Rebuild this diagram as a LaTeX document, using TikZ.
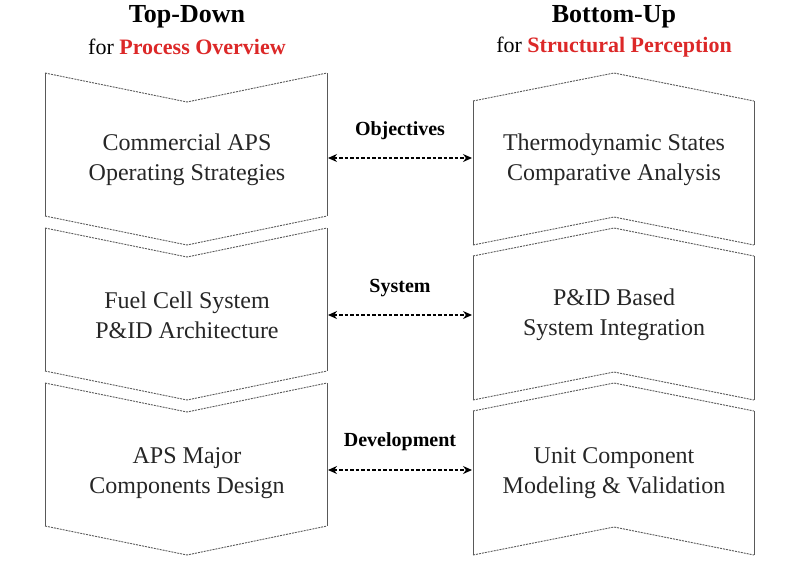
\documentclass[tikz,border=0pt]{standalone}
\usepackage{fontspec}
\setmainfont{Liberation Serif}
\usetikzlibrary{arrows.meta}
\definecolor{myred}{RGB}{220,40,40}
\begin{document}
\begin{tikzpicture}[x=1pt,y=-1pt,
  side/.style={draw=gray!70!black,line width=0.9pt},
  chev/.style={draw=gray!70!black,line width=0.9pt,dash pattern=on 2pt off 1pt},
  txt/.style={font=\fontsize{24}{30}\selectfont,align=center,text=black!85},
  lbl/.style={font=\fontsize{20}{22}\selectfont\bfseries},
  link/.style={line width=1.3pt,dash pattern=on 3.5pt off 2pt,{Stealth[length=9pt,width=8pt]}-{Stealth[length=9pt,width=8pt]}}]
\useasboundingbox (0,0) rectangle (800,581);
\node[font=\fontsize{26}{28}\selectfont\bfseries] (tdt) at (187,17) {Top-Down};
\node[font=\fontsize{22}{24}\selectfont] (tds) at (187,47) {for \textbf{\color{myred}Process Overview}};
\node[font=\fontsize{26}{28}\selectfont\bfseries] (but) at (614,17) {Bottom-Up};
\node[font=\fontsize{22}{24}\selectfont] (bus) at (614,47) {for \textbf{\color{myred}Structural Perception}};
\foreach \k in {0,1,2}{
  \pgfmathsetmacro{\t}{73+155*\k}
  \draw[side] (45,\t) -- (45,\t+143);
  \draw[side] (327,\t) -- (327,\t+143);
  \draw[chev] (45,\t) -- (187,\t+29) -- (327,\t);
  \draw[chev] (45,\t+143) -- (187,\t+172) -- (327,\t+143);
  \draw[side] (473,\t+28) -- (473,\t+172);
  \draw[side] (754,\t+28) -- (754,\t+172);
  \draw[chev] (473,\t+28) -- (614,\t) -- (754,\t+28);
  \draw[chev] (473,\t+172) -- (614,\t+144) -- (754,\t+172);
}
\node[txt] (l1) at (187,160) {Commercial APS\\Operating Strategies};
\node[txt] (r1) at (614,160) {Thermodynamic States\\Comparative Analysis};
\node[txt] (l2) at (187,315) {Fuel Cell System\\P\&ID Architecture};
\node[txt] (r2) at (614,315) {P\&ID Based\\System Integration};
\node[txt] (l3) at (187,473) {APS Major\\Components Design};
\node[txt] (r3) at (614,473) {Unit Component\\Modeling \& Validation};
\coordinate (a1) at (328,158); \coordinate (b1) at (472,158);
\coordinate (a2) at (328,315); \coordinate (b2) at (472,315);
\coordinate (a3) at (328,470); \coordinate (b3) at (472,470);
\draw[link] (a1) -- (b1);
\draw[link] (a2) -- (b2);
\draw[link] (a3) -- (b3);
\node[lbl] (o) at (400,131) {Objectives};
\node[lbl] (s) at (400,288) {System};
\node[lbl] (d) at (400,442) {Development};
\end{tikzpicture}
\end{document}
